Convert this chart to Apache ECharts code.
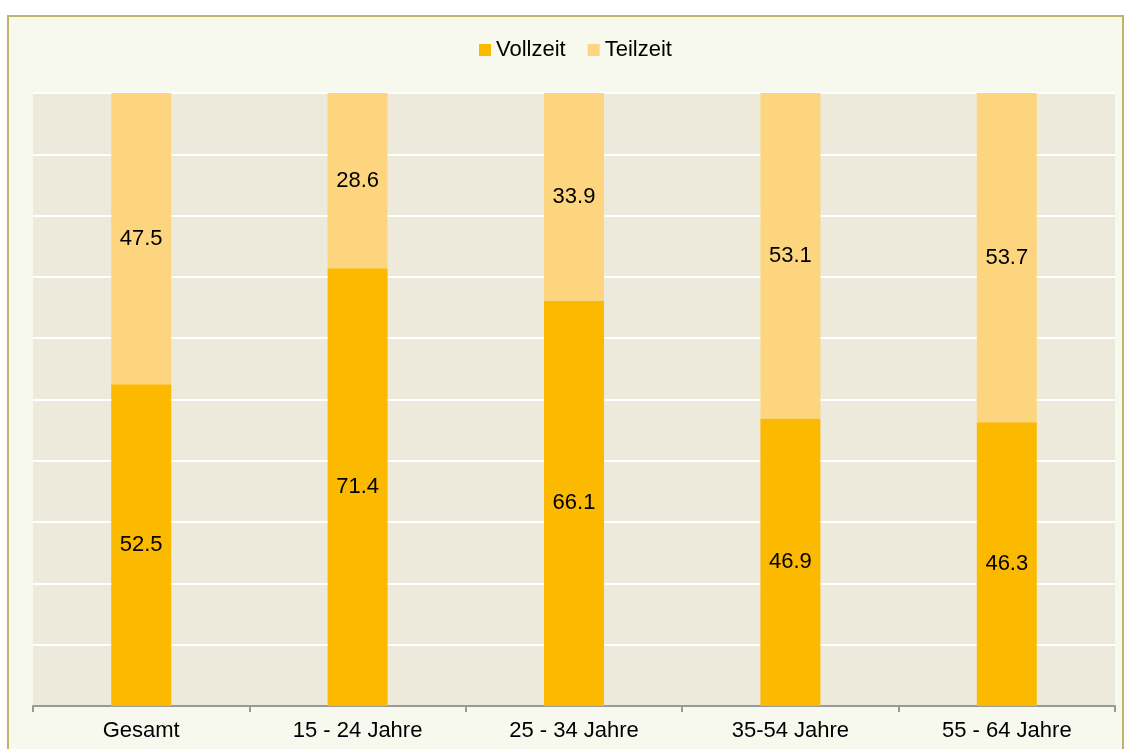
<!DOCTYPE html>
<html>
<head>
<meta charset="utf-8">
<script src="https://cdn.jsdelivr.net/npm/echarts@6/dist/echarts.min.js"></script>
<style>
  html, body { margin: 0; padding: 0; background: #ffffff; }
  #main { width: 1125px; height: 749px; }
</style>
</head>
<body>
<div id="main"></div>
<script>
// Daten
var categories = ['Gesamt', '15 - 24 Jahre', '25 - 34 Jahre', '35-54 Jahre', '55 - 64 Jahre'];
var vollzeit = [52.5, 71.4, 66.1, 46.9, 46.3];
var teilzeit = [47.5, 28.6, 33.9, 53.1, 53.7];

var chart = echarts.init(document.getElementById('main'));

var labelStyle = {
  show: true,
  position: 'inside',
  color: '#000000',
  fontFamily: 'Liberation Sans, Arial, sans-serif',
  fontSize: 22,
  formatter: function (p) { return p.value.toFixed(1); }
};

var option = {
  animation: false,
  backgroundColor: '#ffffff',
  graphic: [
    {
      type: 'rect',
      z: -10,
      shape: { x: 8, y: 16, width: 1115, height: 740 },
      style: { fill: '#f8f9ee', stroke: '#bdb56b', lineWidth: 2 }
    }
  ],
  legend: {
    top: 34,
    left: 474,
    itemWidth: 12,
    itemHeight: 12,
    itemGap: 22,
    icon: 'rect',
    textStyle: {
      fontFamily: 'Liberation Sans, Arial, sans-serif',
      fontSize: 22,
      color: '#000000'
    },
    data: ['Vollzeit', 'Teilzeit']
  },
  grid: {
    left: 33,
    right: 10,
    top: 93,
    bottom: 43,
    show: true,
    backgroundColor: '#edeadb',
    borderWidth: 0
  },
  xAxis: {
    type: 'category',
    data: categories,
    axisLine: { lineStyle: { color: '#999999', width: 2 } },
    axisTick: { show: true, length: 6, lineStyle: { color: '#999999', width: 2 } },
    axisLabel: {
      color: '#000000',
      fontFamily: 'Liberation Sans, Arial, sans-serif',
      fontSize: 22,
      margin: 14
    }
  },
  yAxis: {
    type: 'value',
    min: 0,
    max: 100,
    interval: 10,
    axisLine: { show: false },
    axisTick: { show: false },
    axisLabel: { show: false },
    splitLine: { lineStyle: { color: '#ffffff', width: 2 } }
  },
  series: [
    {
      name: 'Vollzeit',
      type: 'bar',
      stack: 'total',
      barWidth: 60,
      itemStyle: { color: '#fbb900' },
      label: labelStyle,
      data: vollzeit
    },
    {
      name: 'Teilzeit',
      type: 'bar',
      stack: 'total',
      barWidth: 60,
      itemStyle: { color: '#fdd57e' },
      label: labelStyle,
      data: teilzeit
    }
  ]
};

chart.setOption(option);
</script>
</body>
</html>
